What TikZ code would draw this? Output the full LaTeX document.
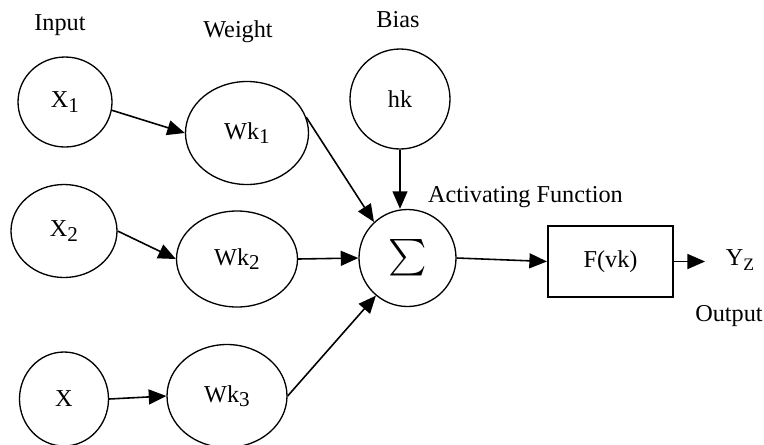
\documentclass[tikz,border=0pt]{standalone}
\usepackage{amsmath}
\usepackage{fontspec}
\setmainfont{Liberation Serif}
\usetikzlibrary{shapes.geometric,arrows.meta}

\newcommand{\lowidx}[1]{\raisebox{-0.4ex}{\fontsize{12}{12}\selectfont #1}}

\begin{document}
\begin{tikzpicture}[
	every node/.style={font=\fontsize{13.8}{16}\selectfont},
	unit/.style={draw,ellipse,line width=0.75pt,inner sep=0pt},
	fbox/.style={draw,rectangle,line width=1.2pt,minimum width=2.5cm,minimum height=1.42cm},
	sig/.style={-{Triangle[length=10pt,width=8.5pt]},line width=0.9pt}
	]
	\useasboundingbox (0,0) rectangle (15.28,-8.88);	%page size
	\clip (0,0) rectangle (15.28,-8.88);
	
	%titles
	\node (tin) at (1.2,-0.5) {Input};
	\node (tw) at (4.76,-0.64) {Weight};
	\node (tb) at (7.96,-0.4) {Bias};
	\node (tact) at (10.51,-3.94) {Activating Function};
	\node (tout) at (14.58,-6.32) {Output};
	
	%inputs
	\node[unit,minimum width=1.88cm,minimum height=1.8cm] (x1) at (1.30,-2.04) {X\lowidx{1}};
	\node[unit,minimum width=2.12cm,minimum height=1.86cm] (x2) at (1.28,-4.62) {X\lowidx{2}};
	\node[unit,minimum width=1.78cm,minimum height=1.88cm] (x3) at (1.28,-7.98) {X};
	
	%weights
	\node[unit,minimum width=2.46cm,minimum height=2.06cm] (wk1) at (4.94,-2.66) {Wk\lowidx{1}};
	\node[unit,minimum width=2.42cm,minimum height=1.92cm] (wk2) at (4.74,-5.18) {Wk\lowidx{2}};
	\node[unit,minimum width=2.4cm,minimum height=2.06cm] (wk3) at (4.54,-7.92) {Wk\lowidx{3}};
	
	%bias, sum, function
	\node[unit,minimum size=2.0cm] (hk) at (8.0,-1.98) {hk};
	\node[unit,minimum size=1.94cm] (sum) at (8.15,-5.16) {\fontsize{21}{24}\selectfont$\sum$};
	\node[fbox] (fvk) at (12.21,-5.23) {F(vk)};
	\node (yz) at (14.8,-5.2) {Y\lowidx{\fontsize{10}{10}\selectfont Z}};
	
	%connections
	\draw[sig] (x1.-10) -- (wk1.west);
	\draw[sig] (x2.east) -- (wk2.west);
	\draw[sig] (x3.east) -- (wk3.west);
	\draw[sig] (wk1.15) -- (sum.133);
	\draw[sig] (hk.south) -- (hk.south |- sum.north);
	\draw[sig] (wk2.east) -- (sum.west);
	\draw[sig] (wk3.east) -- (sum.230);
	\draw[sig] (sum.east) -- (fvk.west);
	\draw[sig] (fvk.east) -- ++(0.62,0);
\end{tikzpicture}
\end{document}
